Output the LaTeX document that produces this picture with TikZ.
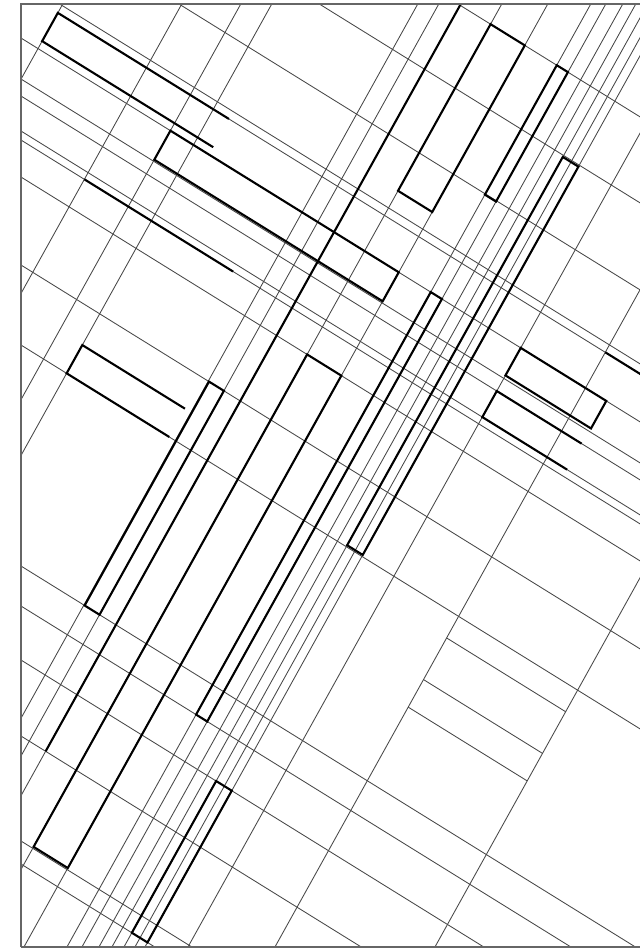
\documentclass[tikz,border=0pt]{standalone}
\newcommand{\rbox}[4]{(#1,#2) -- (#3,#2) -- (#3,#4) -- (#1,#4) -- cycle}
\begin{document}
\begin{tikzpicture}[x=1pt,y=1pt,
  thinl/.style={black!72,line width=0.85pt},
  thickl/.style={black,line width=2.1pt,line join=miter},
  framel/.style={black!60,line width=2.6pt}]
\useasboundingbox (0,0) rectangle (640,-951);
\fill[white] (0,0) rectangle (640,-951);
\begin{scope}
\clip (21,-4) rectangle (641,-947);
\begin{scope}[x={(0.7438pt,-0.4612pt)},y={(-0.4132pt,-0.7438pt)}]
% full steep lines (constant p)
\foreach \p in {65,184,243,274,420,441,463,504,550,593,608,625,638,650,661,671,714,801,961}
  \draw[thinl] (\p,-600) -- (\p,1200);
% full shallow lines (constant q)
\foreach \q in {-280,-194,-107,-33,25,66,83,118,127,164,252,332,553,593,647,723,828,851}
  \draw[thinl] (-200,\q) -- (1400,\q);
% partial thin lines
\draw[thinl] (65,-23) -- (1400,-23);
\draw[thinl] (801,361) -- (961,361);
\draw[thinl] (801,417) -- (961,417);
\draw[thinl] (801,454) -- (961,454);
% thick elements
\draw[thickl] (295,-23) -- (65,-23) -- (65,15) -- (295,15);
\draw[thickl] \rbox{243}{25}{550}{64};
\draw[thickl] \rbox{504}{-280}{550}{-56};
\draw[thickl] \rbox{593}{-280}{608}{-106};
\draw[thickl] \rbox{650}{-192}{671}{330};
\draw[thickl] \rbox{504}{164}{550}{826};
\draw[thickl] \rbox{421}{252}{441}{553};
\draw[thickl] \rbox{650}{647}{671}{851};
\draw[thickl] \rbox{714}{25}{829}{62};
\draw[thickl] (828,83) -- (714,83) -- (714,118) -- (828,118);
\draw[thickl] (412,294) -- (274,294) -- (274,332) -- (412,332);
\draw[thickl] \rbox{593}{25}{608}{593};
\draw[thickl] (184,127) -- (384,127);
\draw[thickl] (801,-23) -- (1000,-23);
\draw[thickl] (463,-600) -- (463,723);
\end{scope}
\end{scope}
\draw[framel] (21,-947) -- (21,-4) -- (641,-4);
\draw[framel] (21,-947) -- (641,-947);
\end{tikzpicture}
\end{document}
